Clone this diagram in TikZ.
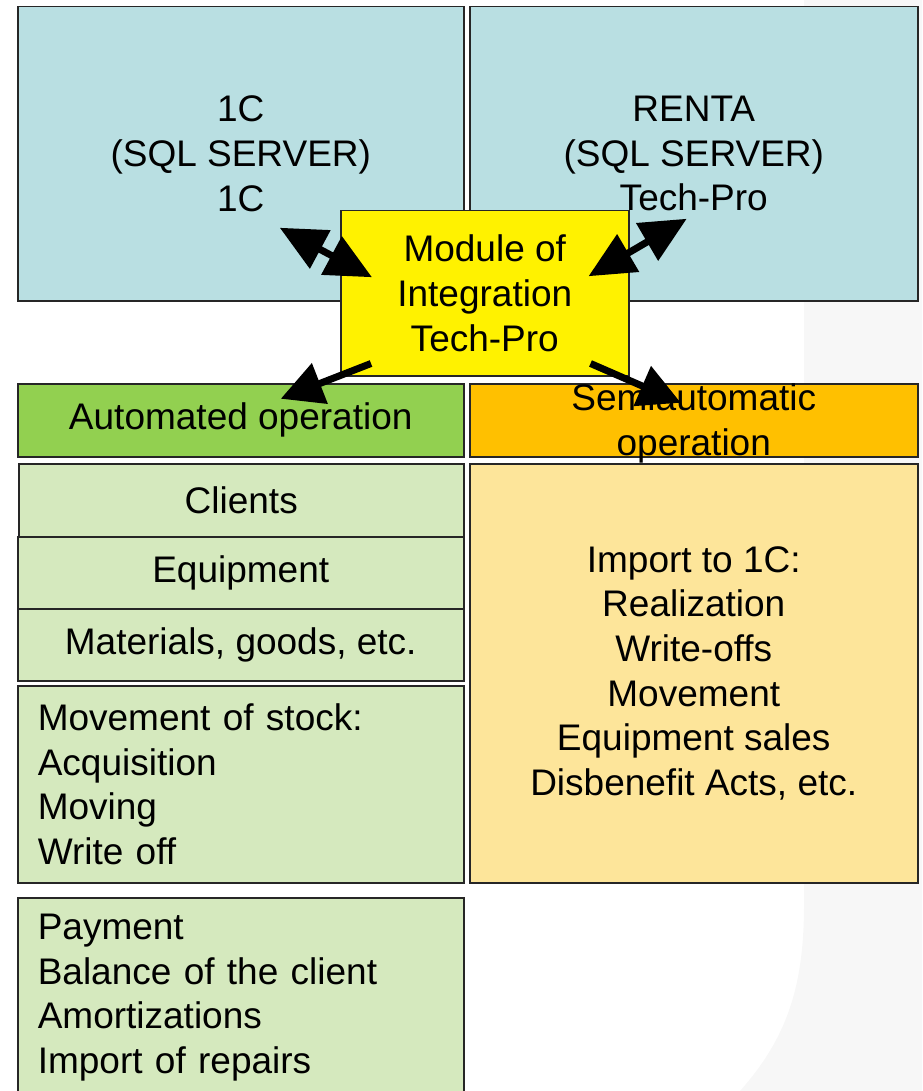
\documentclass[tikz,border=0pt]{standalone}
\usepackage{fontspec}
\setmainfont{Liberation Sans}
\usetikzlibrary{arrows.meta}
\definecolor{db-blue}{RGB}{185,223,226}
\definecolor{auto-green}{RGB}{146,208,80}
\definecolor{item-green}{RGB}{213,233,190}
\definecolor{semi-orange}{RGB}{255,192,0}
\definecolor{item-orange}{RGB}{253,229,154}
\definecolor{slide-grey}{RGB}{247,247,247}
\tikzset{
    base-box/.style = {draw=black!85, line width=1.5pt, rectangle, anchor=north west, inner sep=0pt, align=center, font=\fontsize{37}{44.6}\selectfont},
    db-box/.style = {base-box, fill=db-blue, minimum height=294pt},
    module-box/.style = {base-box, fill=yellow, minimum width=288pt, minimum height=165pt},
    head-box/.style = {base-box, minimum height=73pt},
    item-box/.style = {base-box, fill=item-green, minimum width=446pt, minimum height=72pt},
    list-box/.style = {base-box, fill=item-green, align=left, inner xsep=20pt, text width=406pt},
    link-arrow/.style = {line width=7pt, -{Triangle[length=42pt,width=42pt]}},
    both-arrow/.style = {line width=7pt, {Triangle[length=46pt,width=42pt]}-{Triangle[length=46pt,width=42pt]}},
}
\begin{document}
\begin{tikzpicture}[x=1pt,y=-1pt]
\useasboundingbox (0,0) rectangle (922,1091);

% slide background
\fill[slide-grey] (804,0) -- (804,905) .. controls (804,990) and (785,1040) .. (740,1091) -- (922,1091) -- (922,0) -- cycle;

% databases
\node[db-box, minimum width=446pt] (onec) at (17,6) {1C\\(SQL SERVER)\\1C};
\node[db-box, minimum width=448pt] (renta) at (469,6) {RENTA\\(SQL SERVER)\\Tech-Pro};

% headers
\node[head-box, fill=auto-green, minimum width=446pt] (auto-head) at (17,383) {Automated operation};
\node[head-box, fill=semi-orange, minimum width=448pt] (semi-head) at (469,383) {};
\node[font=\fontsize{37}{44.6}\selectfont, align=center, inner sep=0pt] (semi-text) at ([yshift=-3pt]semi-head.center) {Semiautomatic\\operation};

% automated items
\node[item-box, minimum width=445pt, minimum height=73pt] (clients) at (18,463) {Clients};
\node[item-box] (equipment) at (17,536) {Equipment};
\node[item-box] (materials) at (17,608) {Materials, goods, etc.};
\node[list-box, minimum height=197pt] (stock) at (17,685) {Movement of stock:\\Acquisition\\Moving\\Write off};
\node[list-box, minimum height=200pt] (payment) at (17,897) {Payment\\Balance of the client\\Amortizations\\Import of repairs};

% semiautomatic items
\node[base-box, fill=item-orange, minimum width=448pt, minimum height=419pt] (import) at (469,463) {Import to 1C:\\Realization\\Write-offs\\Movement\\Equipment sales\\Disbenefit Acts, etc.};

% module
\node[module-box] (mod) at (340,210) {Module of\\Integration\\Tech-Pro};

% links
\draw[both-arrow] ([xshift=32pt,yshift=16pt]mod.west) -- ([xshift=39pt,yshift=-74pt]onec.center);
\draw[both-arrow] ([xshift=-41pt,yshift=17pt]mod.east) -- ([xshift=-7pt,yshift=-65pt]renta.center);
\draw[link-arrow] ([xshift=31pt,yshift=13pt]mod.south west) -- ([xshift=40pt,yshift=21.5pt]auto-head.center);
\draw[link-arrow] ([xshift=-39pt,yshift=13pt]mod.south east) -- ([xshift=-13pt,yshift=17.5pt]semi-head.center);
\end{tikzpicture}
\end{document}
